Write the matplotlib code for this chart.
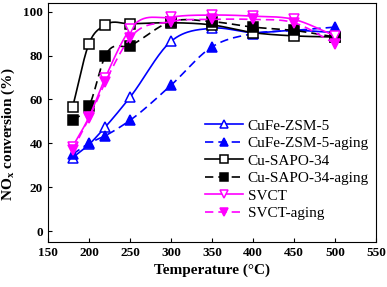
import matplotlib
matplotlib.use("Agg")
import matplotlib.pyplot as plt
import numpy as np

temps = [180, 200, 220, 250, 300, 350, 400, 450, 500]
cufe = [33.5, 39.5, 47.5, 61, 86.5, 92.5, 90.5, 91.5, 90.5]
cufe_aging = [35, 40, 43.5, 50.5, 66.5, 84, 90, 91.5, 93]
cusapo = [56.5, 85.5, 94, 94.5, 95, 94, 90.5, 89, 88.5]
cusapo_aging = [50.5, 57, 80, 84.5, 95.5, 95.5, 93, 91.5, 88.5]
svct = [38.5, 52, 70, 92, 97.5, 98.5, 98, 96.5, 89]
svct_aging = [37, 51.5, 68, 88, 95.5, 96.5, 96.5, 95, 85.5]


def smooth(x, y, n=30):
    # cubic Hermite curve through the points, three-point tangents
    x = np.asarray(x, float)
    y = np.asarray(y, float)
    h = np.diff(x)
    s = np.diff(y) / h
    m = np.empty_like(y)
    m[0], m[-1] = s[0], s[-1]
    m[1:-1] = (h[1:] * s[:-1] + h[:-1] * s[1:]) / (h[:-1] + h[1:])
    xs, ys = [], []
    for i in range(len(h)):
        t = np.linspace(0, 1, n, endpoint=(i == len(h) - 1))
        h00 = 2 * t**3 - 3 * t**2 + 1
        h10 = t**3 - 2 * t**2 + t
        h01 = -2 * t**3 + 3 * t**2
        h11 = t**3 - t**2
        xs.append(x[i] + t * h[i])
        ys.append(h00 * y[i] + h10 * h[i] * m[i] + h01 * y[i + 1] + h11 * h[i] * m[i + 1])
    return np.concatenate(xs), np.concatenate(ys)


plt.rcParams["font.family"] = ["Liberation Serif", "DejaVu Serif"]
plt.rcParams["mathtext.fontset"] = "custom"
plt.rcParams["mathtext.rm"] = "Liberation Serif"
plt.rcParams["mathtext.bf"] = "Liberation Serif:bold"

fig = plt.figure(figsize=(3.87, 2.87), dpi=100)
ax = fig.add_axes([48 / 387, 45 / 287, 328 / 387, 239 / 287])

series = [
    ("CuFe-ZSM-5", cufe, "blue", "-", "^", "white"),
    ("CuFe-ZSM-5-aging", cufe_aging, "blue", "--", "^", "blue"),
    ("Cu-SAPO-34", cusapo, "black", "-", "s", "white"),
    ("Cu-SAPO-34-aging", cusapo_aging, "black", "--", "s", "black"),
    ("SVCT", svct, "#ff00ff", "-", "v", "white"),
    ("SVCT-aging", svct_aging, "#ff00ff", "--", "v", "#ff00ff"),
]

handles = []
for label, vals, col, ls, mk, fc in series:
    sx, sy = smooth(temps, vals)
    dash = (5, 3) if ls == "--" else (None, None)
    ax.plot(sx, sy, color=col, lw=1.2, ls=ls, dashes=dash)
    ax.plot(temps, vals, ls="none", marker=mk, ms=6.5, mfc=fc, mec=col, mew=1.1)
    h, = ax.plot([], [], color=col, ls=ls, dashes=dash, lw=1.2, marker=mk, ms=5.5,
                 mfc=fc, mec=col, mew=1.1, label=label)
    handles.append(h)

ax.set_xlim(150, 550)
ax.set_ylim(-5, 104)
ax.set_xticks(range(150, 551, 50))
ax.set_yticks(range(0, 101, 20))
ax.tick_params(direction="in", length=3, labelsize=9.5, top=False, right=False)
for lab in ax.get_xticklabels() + ax.get_yticklabels():
    lab.set_fontweight("bold")
ax.set_xlabel("Temperature (°C)", fontsize=11, fontweight="bold", labelpad=3)
ax.set_ylabel(r"NO$_\mathbf{x}$ conversion (%)", fontsize=11, fontweight="bold")
ax.yaxis.set_label_coords(-0.094, 0.45)

fig.legend(handles=handles, loc="upper left", bbox_to_anchor=(205 / 387, 1 - 119 / 287),
           frameon=False, fontsize=11, handlelength=2.5, handletextpad=0.3,
           labelspacing=0.25, borderpad=0, borderaxespad=0)

fig.savefig("out.png", dpi=100)
